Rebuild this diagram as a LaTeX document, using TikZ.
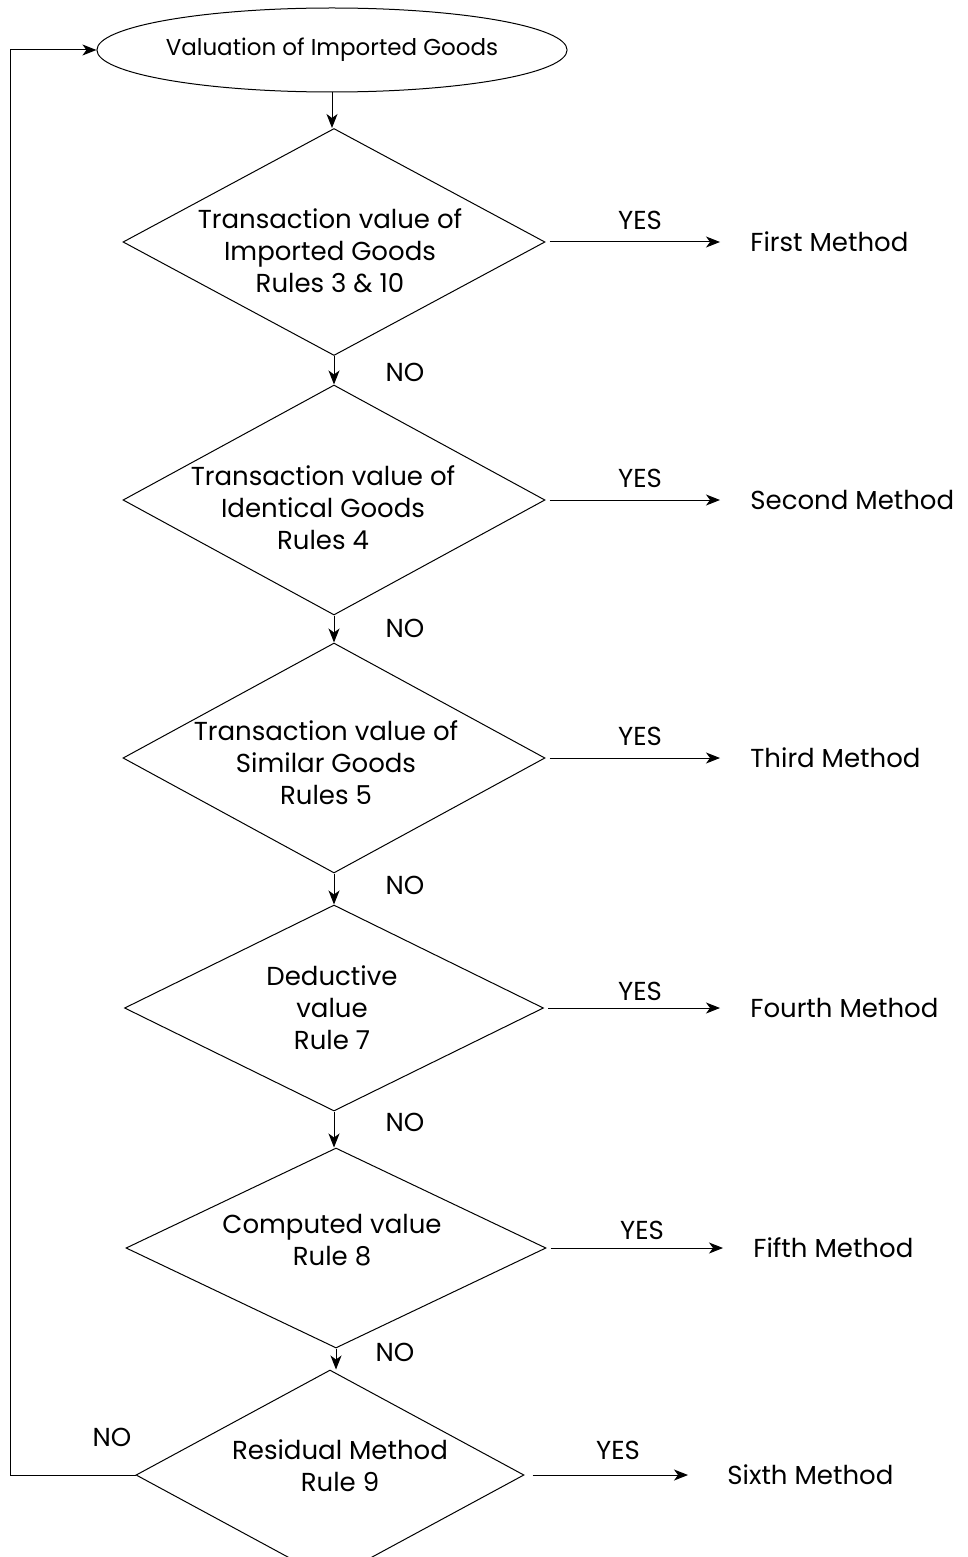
\documentclass[tikz,border=0pt]{standalone}
\usepackage{fontspec}
\setmainfont{Poppins}
\usetikzlibrary{shapes.geometric,arrows.meta}
\begin{document}
\begin{tikzpicture}[x=0.5pt,y=-0.5pt,
  every node/.style={font=\fontsize{13}{16}\selectfont},
  dia/.style={draw,diamond,inner sep=0pt,line width=0.5pt},
  txt/.style={align=center,inner sep=0pt},
  res/.style={anchor=west,inner xsep=15pt,inner ysep=0pt},
  lbl/.style={inner sep=0pt},
  arr/.style={draw,line width=0.5pt,-{Stealth[length=7pt,width=5.5pt,inset=2pt]}}]
\path[use as bounding box] (0,0) rectangle (968,1557);
\clip (0,0) rectangle (968,1557);
% start
\node[draw,ellipse,line width=0.5pt,minimum width=234.5pt,minimum height=42pt,inner sep=0pt,
      font=\fontsize{11.5}{13}\selectfont] (ell) at (332,50) {Valuation of Imported Goods};
% diamonds
\node[dia,minimum width=211pt,minimum height=113.5pt] (d1) at (334,242) {};
\node[dia,minimum width=211pt,minimum height=115pt] (d2) at (334,500) {};
\node[dia,minimum width=211pt,minimum height=115pt] (d3) at (334,758) {};
\node[dia,minimum width=209.5pt,minimum height=103pt] (d4) at (334,1008) {};
\node[dia,minimum width=210pt,minimum height=100pt] (d5) at (336,1248) {};
\node[dia,minimum width=194pt,minimum height=105pt] (d6) at (330,1475) {};
% texts
\node[txt] (t1) at (330,251) {Transaction value of\\Imported Goods\\Rules 3 \& 10};
\node[txt] (t2) at (323,508) {Transaction value of\\Identical Goods\\Rules 4};
\node[txt] (t3) at (326,763) {Transaction value of\\Similar Goods\\Rules 5};
\node[txt] (t4) at (332,1008) {Deductive\\value\\Rule 7};
\node[txt] (t5) at (332,1240) {Computed value\\Rule 8};
\node[txt] (t6) at (340,1466) {Residual Method\\Rule 9};
% results
\node[res] (m1) at (720,242) {First Method};
\node[res] (m2) at (720,500) {Second Method};
\node[res] (m3) at (720,758) {Third Method};
\node[res] (m4) at (720,1008) {Fourth Method};
\node[res] (m5) at (723,1248) {Fifth Method};
\node[res,inner xsep=19.5pt] (m6) at (688,1475) {Sixth Method};
% YES labels
\node[lbl] (y1) at (640,220) {YES};
\node[lbl] (y2) at (640,478) {YES};
\node[lbl] (y3) at (640,736) {YES};
\node[lbl] (y4) at (640,991) {YES};
\node[lbl] (y5) at (642,1230) {YES};
\node[lbl] (y6) at (618,1450) {YES};
% NO labels
\node[lbl] (n1) at (405,372) {NO};
\node[lbl] (n2) at (405,628) {NO};
\node[lbl] (n3) at (405,885) {NO};
\node[lbl] (n4) at (405,1122) {NO};
\node[lbl] (n5) at (395,1352) {NO};
\node[lbl] (n6) at (112,1437) {NO};
% vertical connectors
\draw[arr] (ell.south) -- (ell.south |- d1.north);
\draw[arr] (d1.south) -- (d2.north);
\draw[arr] (d2.south) -- (d3.north);
\draw[arr] (d3.south) -- (d4.north);
\draw[arr] (d4.south) -- (d4.south |- d5.north);
\draw[arr] (d5.south) -- (d5.south |- d6.north);
% yes connectors
\draw[arr,shorten <=2pt] (d1.east) -- (m1.west);
\draw[arr,shorten <=2pt] (d2.east) -- (m2.west);
\draw[arr,shorten <=2pt] (d3.east) -- (m3.west);
\draw[arr,shorten <=2pt] (d4.east) -- (m4.west);
\draw[arr,shorten <=2pt] (d5.east) -- (m5.west);
\draw[arr,shorten <=4pt] (d6.east) -- (m6.west);
% loop back
\coordinate (lp) at (10,1475);
\draw[arr] (d6.west) -- (lp) |- (ell.west);
\end{tikzpicture}
\end{document}
